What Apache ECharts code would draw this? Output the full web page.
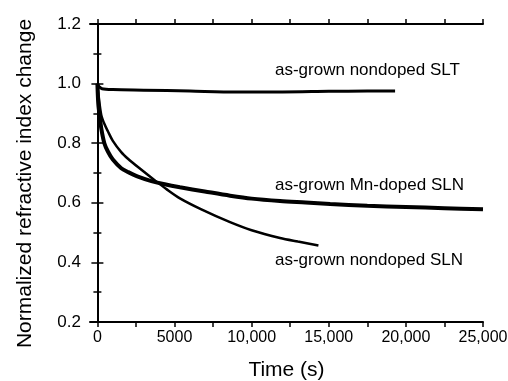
<!DOCTYPE html>
<html>
<head>
<meta charset="utf-8">
<script src="https://cdn.jsdelivr.net/npm/echarts@6/dist/echarts.min.js"></script>
<style>
  html, body { margin: 0; padding: 0; background: #fff; }
  #chart { width: 508px; height: 381px; }
</style>
</head>
<body>
<div id="chart"></div>
<script>
// time in s, normalized refractive index change
const sltTime = [0, 100, 300, 1000, 3000, 6000, 9000, 12000, 15000, 17500, 19300];
const sltValue = [1.0, 0.99, 0.983, 0.98, 0.978, 0.975, 0.972, 0.972, 0.974, 0.975, 0.975];

const mnTime = [0, 60, 150, 250, 450, 680, 1000, 1545, 2000, 2630, 3500, 4360, 5350, 6960, 8600, 10000, 11840, 13500, 15090, 17500, 20000, 22500, 25000];
const mnValue = [1.0, 0.93, 0.89, 0.85, 0.80, 0.772, 0.745, 0.716, 0.703, 0.688, 0.673, 0.662, 0.652, 0.638, 0.624, 0.614, 0.606, 0.601, 0.596, 0.59, 0.586, 0.582, 0.578];

const slnTime = [0, 100, 250, 450, 680, 1000, 1545, 2000, 2630, 3710, 4500, 5350, 6740, 8600, 10000, 11840, 13000, 14330];
const slnValue = [1.0, 0.95, 0.895, 0.865, 0.84, 0.808, 0.77, 0.747, 0.72, 0.676, 0.645, 0.615, 0.578, 0.535, 0.508, 0.482, 0.47, 0.457];

const xTicks = [0, 5000, 10000, 15000, 20000, 25000];
const xAllTicks = [0, 2500, 5000, 7500, 10000, 12500, 15000, 17500, 20000, 22500, 25000];

const seriesNames = ['as-grown nondoped SLT', 'as-grown Mn-doped SLN', 'as-grown nondoped SLN'];

const zip = (a, b) => a.map((t, i) => [t, b[i]]);

const font = '"Liberation Sans", Arial, sans-serif';

const chart = echarts.init(document.getElementById('chart'));

const xFmt = v => v < 10000 ? String(v) : v.toLocaleString('en-US');

const xBase = {
    type: 'value',
    min: -480,
    max: 25000,
    splitLine: { show: false },
    axisLine: { lineStyle: { color: '#000', width: 2 } },
    axisTick: { inside: false, length: 5, customValues: xAllTicks, lineStyle: { color: '#000', width: 1.5 } }
};
const yBase = {
    type: 'value',
    min: 0.2,
    max: 1.2,
    interval: 0.2,
    splitLine: { show: false },
    axisLine: { show: true, lineStyle: { color: '#000', width: 2 } },
    axisTick: { show: true, inside: false, length: 6, lineStyle: { color: '#000', width: 1.5 } },
    minorTick: { show: true, splitNumber: 2, length: 4, lineStyle: { color: '#000', width: 1.5 } }
};

chart.setOption({
    animation: false,
    grid: { left: 90, right: 25, top: 24, bottom: 59, outerBoundsMode: 'none' },
    xAxis: [
        Object.assign({}, xBase, {
            position: 'bottom',
            name: 'Time (s)',
            nameLocation: 'middle',
            nameGap: 38,
            nameTextStyle: { fontFamily: font, fontSize: 21, color: '#000' },
            axisLabel: { customValues: xTicks, formatter: xFmt, margin: 8, fontFamily: font, fontSize: 16, color: '#000' }
        }),
        Object.assign({}, xBase, {
            position: 'top',
            axisLabel: { show: false }
        })
    ],
    yAxis: [
        Object.assign({}, yBase, {
            position: 'left',
            name: 'Normalized refractive index change',
            nameLocation: 'middle',
            nameGap: 54,
            nameTextStyle: { fontFamily: font, fontSize: 21, color: '#000', padding: [0, 21, 0, 0] },
            axisLabel: { formatter: v => v.toFixed(1), margin: 9, fontFamily: font, fontSize: 17, color: '#000' }
        }),
        Object.assign({}, yBase, {
            position: 'right',
            axisLabel: { show: false }
        })
    ],
    series: [
        {
            name: seriesNames[0], type: 'line', data: zip(sltTime, sltValue),
            showSymbol: false, smooth: 0.3,
            lineStyle: { color: '#000', width: 3 }
        },
        {
            name: seriesNames[1], type: 'line', data: zip(mnTime, mnValue),
            showSymbol: false, smooth: 0.3,
            lineStyle: { color: '#000', width: 4 }
        },
        {
            name: seriesNames[2], type: 'line', data: zip(slnTime, slnValue),
            showSymbol: false, smooth: 0.3,
            lineStyle: { color: '#000', width: 2.5 }
        }
    ],
    graphic: [
        { type: 'text', left: 275, top: 62, style: { text: seriesNames[0], font: '17px ' + font, fill: '#000' } },
        { type: 'text', left: 275, top: 177, style: { text: seriesNames[1], font: '17px ' + font, fill: '#000' } },
        { type: 'text', left: 275, top: 252, style: { text: seriesNames[2], font: '17px ' + font, fill: '#000' } }
    ]
});
</script>
</body>
</html>
